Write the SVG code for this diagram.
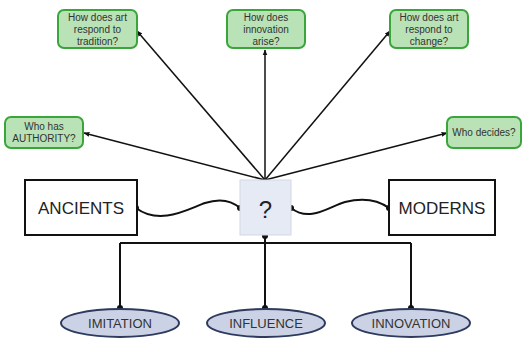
<svg xmlns="http://www.w3.org/2000/svg" width="525" height="339" viewBox="0 0 525 339">
<defs>
<marker id="ah" viewBox="0 0 10 10" refX="9" refY="5" markerWidth="6" markerHeight="6" orient="auto-start-reverse" markerUnits="userSpaceOnUse">
<path d="M0,1 L10,5 L0,9 z" fill="#111"/>
</marker>
<style>
.q rect{fill:#b9e2b7;stroke:#3aa53a;stroke-width:2}
.q text{font-family:"Liberation Sans",Arial,sans-serif;font-size:10px;fill:#333;text-anchor:middle}
.b rect{fill:#fff;stroke:#111;stroke-width:2}
.b text{font-family:"Liberation Sans",Arial,sans-serif;font-size:17px;fill:#222;text-anchor:middle}
.o ellipse{fill:#cbd2e6;stroke:#2e3b5e;stroke-width:2}
.o text{font-family:"Liberation Sans",Arial,sans-serif;font-size:13px;fill:#333;text-anchor:middle}
.c path,.c line{fill:none;stroke:#111;stroke-width:2}
.c .a{stroke-width:1.5;marker-end:url(#ah)}
.d{fill:#111}
</style>
</defs>
<g id="connectors" class="c">
<line class="a" x1="265" y1="180" x2="137" y2="31"/>
<line class="a" x1="265" y1="180" x2="265" y2="50"/>
<line class="a" x1="265" y1="180" x2="390" y2="31"/>
<line class="a" x1="265" y1="180" x2="84" y2="133"/>
<line class="a" x1="265" y1="180" x2="447" y2="133"/>
<path d="M136,208 C160,226 188,209 205,203 C220,198 232,201 240,208"/>
<path d="M291,208 C310,223 330,206 345,202 C365,197 378,200 389,208"/>
<path d="M265,235 L265,308 M120,243 L411,243 M120,243 L120,308 M411,243 L411,308"/>
<circle class="d" cx="136" cy="208" r="3"/>
<circle class="d" cx="240" cy="208" r="3"/>
<circle class="d" cx="291" cy="208" r="3"/>
<circle class="d" cx="389" cy="208" r="3"/>
<circle class="d" cx="265" cy="236" r="3"/>
<circle class="d" cx="120" cy="308" r="3"/>
<circle class="d" cx="265" cy="308" r="3"/>
<circle class="d" cx="411" cy="308" r="3"/>
</g>
<g id="q-tradition" class="q">
<rect x="58" y="10" width="79" height="38" rx="6"/>
<text x="97.5" y="21">How does art</text>
<text x="97.5" y="33">respond to</text>
<text x="97.5" y="45">tradition?</text>
</g>
<g id="q-innovation" class="q">
<rect x="227" y="10" width="78" height="38" rx="6"/>
<text x="266" y="21">How does</text>
<text x="266" y="33">innovation</text>
<text x="266" y="45">arise?</text>
</g>
<g id="q-change" class="q">
<rect x="390" y="10" width="78" height="38" rx="6"/>
<text x="429" y="21">How does art</text>
<text x="429" y="33">respond to</text>
<text x="429" y="45">change?</text>
</g>
<g id="q-authority" class="q">
<rect x="5" y="117" width="78" height="31" rx="6"/>
<text x="44" y="130">Who has</text>
<text x="44" y="142">AUTHORITY?</text>
</g>
<g id="q-decides" class="q">
<rect x="447" y="117" width="74" height="31" rx="6"/>
<text x="484" y="136">Who decides?</text>
</g>
<g id="ancients" class="b">
<rect x="25" y="180" width="112" height="55"/>
<text x="81" y="214">ANCIENTS</text>
</g>
<g id="moderns" class="b">
<rect x="389" y="180" width="106" height="55"/>
<text x="442" y="214">MODERNS</text>
</g>
<g id="question">
<rect x="240" y="180" width="51" height="55" fill="#e5eaf5" stroke="#d3d8e2" stroke-width="1"/>
<text x="265.5" y="218" font-family="Liberation Sans,Arial,sans-serif" font-size="24" fill="#222" text-anchor="middle">?</text>
</g>
<g id="imitation" class="o">
<ellipse cx="120" cy="323" rx="59" ry="14"/>
<text x="120" y="328">IMITATION</text>
</g>
<g id="influence" class="o">
<ellipse cx="266" cy="323" rx="59" ry="14"/>
<text x="266" y="328">INFLUENCE</text>
</g>
<g id="innovation" class="o">
<ellipse cx="411" cy="323" rx="59" ry="14"/>
<text x="411" y="328">INNOVATION</text>
</g>
</svg>
